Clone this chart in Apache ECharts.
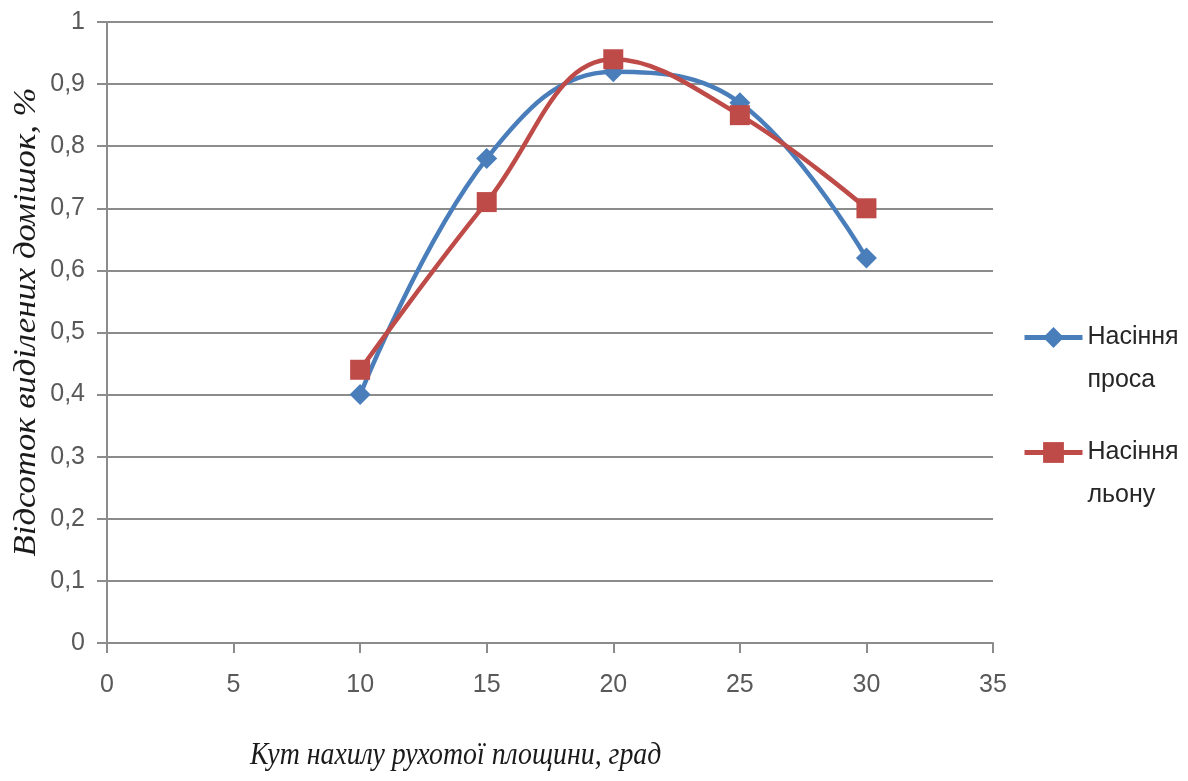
<!DOCTYPE html>
<html>
<head>
<meta charset="utf-8">
<script src="https://cdn.jsdelivr.net/npm/echarts@6/dist/echarts.min.js"></script>
<style>
html,body{margin:0;padding:0;background:#fff;}
#chart{width:1188px;height:781px;}
</style>
</head>
<body>
<div id="chart"></div>
<script>
const xValues = [10, 15, 20, 25, 30];
const milletValues = [0.40, 0.78, 0.92, 0.87, 0.62];
const flaxValues = [0.44, 0.71, 0.94, 0.85, 0.70];
const seriesNames = ['Насіння\nпроса', 'Насіння\nльону'];
const xAxisTitle = 'Кут нахилу рухотої площини, град';
const yAxisTitle = 'Відсоток виділених домішок, %';

const chart = echarts.init(document.getElementById('chart'));
const labelFont = "'Liberation Sans', sans-serif";
const serifFont = "'Liberation Serif', 'DejaVu Serif', serif";
const gridColor = '#8c8c8c';

chart.setOption({
  animation: false,
  backgroundColor: '#fff',
  grid: { left: 107, right: 195, top: 22, bottom: 138, containLabel: false },
  legend: {
    orient: 'vertical',
    left: 1022,
    top: 273,
    padding: 0,
    itemWidth: 58,
    itemHeight: 26,
    itemGap: -14,
    lineStyle: { width: 5 },
    formatter: name => ' \n' + name,
    textStyle: {
      fontFamily: labelFont,
      fontSize: 25,
      color: '#262626',
      lineHeight: 43
    },
    data: seriesNames
  },
  xAxis: {
    type: 'value',
    min: 0, max: 35, interval: 5,
    axisLine: { show: true, onZero: false, lineStyle: { color: gridColor, width: 2 } },
    axisTick: { show: true, length: 10, lineStyle: { color: gridColor, width: 2 } },
    axisLabel: { margin: 30, fontFamily: labelFont, fontSize: 25, color: '#595959' },
    splitLine: { show: false }
  },
  yAxis: {
    type: 'value',
    min: 0, max: 1, interval: 0.1,
    axisLine: { show: true, lineStyle: { color: gridColor, width: 2 } },
    axisTick: { show: true, length: 10, lineStyle: { color: gridColor, width: 2 } },
    axisLabel: {
      margin: 22, fontFamily: labelFont, fontSize: 25, color: '#595959',
      formatter: v => String(Math.round(v * 10) / 10).replace('.', ',')
    },
    splitLine: { show: true, lineStyle: { color: gridColor, width: 2 } }
  },
  graphic: [
    {
      type: 'text',
      x: 250, y: 740,
      scaleX: 0.87,
      style: { text: xAxisTitle, font: "italic 32px " + serifFont, fill: '#1a1a1a' }
    },
    {
      type: 'text',
      x: 27, y: 322,
      rotation: Math.PI / 2,
      scaleX: 1.12,
      style: { text: yAxisTitle, font: "italic 31px " + serifFont, fill: '#1a1a1a', align: 'center', verticalAlign: 'middle' }
    }
  ],
  series: [
    {
      name: seriesNames[0],
      type: 'line',
      smooth: 0.4,
      data: xValues.map((x, i) => [x, milletValues[i]]),
      symbol: 'diamond',
      symbolSize: 21,
      lineStyle: { color: '#4a7ebb', width: 4.5 },
      itemStyle: { color: '#4a7ebb' },
      z: 2
    },
    {
      name: seriesNames[1],
      type: 'line',
      smooth: 0.4,
      data: xValues.map((x, i) => [x, flaxValues[i]]),
      symbol: 'rect',
      symbolSize: 20,
      lineStyle: { color: '#be4b48', width: 4.5 },
      itemStyle: { color: '#be4b48' },
      z: 3
    }
  ]
});
</script>
</body>
</html>
